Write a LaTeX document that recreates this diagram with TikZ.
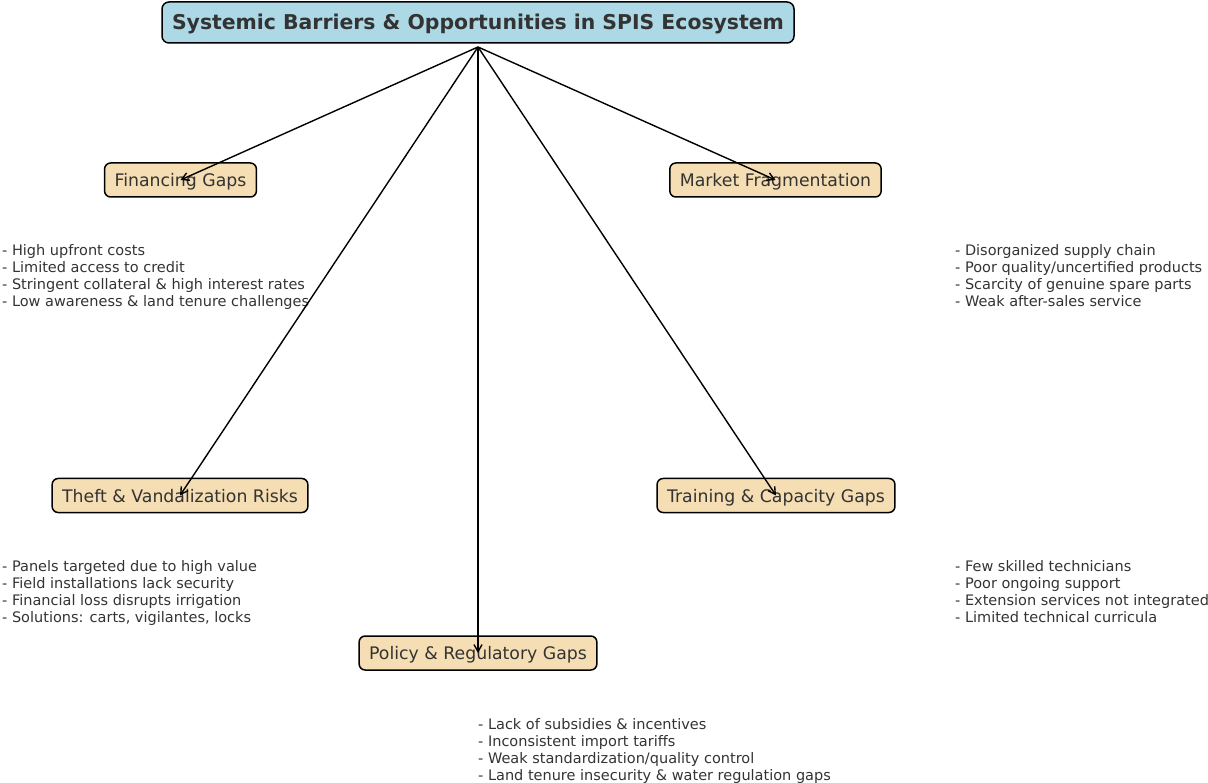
\documentclass[tikz,border=0pt]{standalone}
\usepackage{fontspec}
\setmainfont{DejaVu Sans}
\usetikzlibrary{arrows.meta}
\definecolor{boxfill}{HTML}{F5DEB3}
\definecolor{titlefill}{HTML}{ADD8E6}
\definecolor{txt}{HTML}{333333}
\tikzset{
  catbox/.style={draw=black, line width=1.5pt, fill=boxfill, rounded corners=6pt,
    minimum height=34pt, inner xsep=10pt, inner ysep=0pt, text=txt,
    text height=13pt, text depth=0pt,
    font=\fontsize{17.3pt}{20pt}\selectfont},
  titlebox/.style={draw=black, line width=1.5pt, fill=titlefill, rounded corners=7pt,
    minimum height=41pt, minimum width=632pt, inner ysep=0pt, text=txt,
    text height=14.4pt, text depth=0pt,
    font=\fontsize{20.4pt}{24pt}\selectfont\bfseries},
  bullets/.style={anchor=base west, align=left, inner sep=0pt, text=txt,
    font=\fontsize{14.5pt}{17pt}\selectfont},
  link/.style={-{Straight Barb[length=7pt,width=8pt]}, line width=1.4pt, black}
}
\begin{document}
\begin{tikzpicture}[x=1pt,y=-1pt]
\useasboundingbox (0,0) rectangle (1208,783);
\node[titlebox] (title) at (478,22.5) {Systemic Barriers \& Opportunities in SPIS Ecosystem};
\coordinate (hub) at (478,47);
\node[catbox] (fin) at (180.5,180) {Financing Gaps};
\node[catbox] (mkt) at (775.5,180) {Market Fragmentation};
\node[catbox] (theft) at (180,495.5) {Theft \& Vandalization Risks};
\node[catbox] (train) at (776,495.5) {Training \& Capacity Gaps};
\node[catbox] (pol) at (478,653) {Policy \& Regulatory Gaps};

\node[bullets] (finb) at (2,307) {- High upfront costs\\- Limited access to credit\\- Stringent collateral \& high interest rates\\- Low awareness \& land tenure challenges};
\node[bullets] (mktb) at (955,307) {- Disorganized supply chain\\- Poor quality/uncertified products\\- Scarcity of genuine spare parts\\- Weak after-sales service};
\node[bullets] (theftb) at (2,622) {- Panels targeted due to high value\\- Field installations lack security\\- Financial loss disrupts irrigation\\- Solutions: carts, vigilantes, locks};
\node[bullets] (trainb) at (955,622) {- Few skilled technicians\\- Poor ongoing support\\- Extension services not integrated\\- Limited technical curricula};
\node[bullets] (polb) at (478,780) {- Lack of subsidies \& incentives\\- Inconsistent import tariffs\\- Weak standardization/quality control\\- Land tenure insecurity \& water regulation gaps};

\draw[link] (hub) -- (fin.center);
\draw[link] (hub) -- (mkt.center);
\draw[link] (hub) -- (theft.center);
\draw[link] (hub) -- (train.center);
\draw[link] (hub) -- (pol.center);
\end{tikzpicture}
\end{document}
